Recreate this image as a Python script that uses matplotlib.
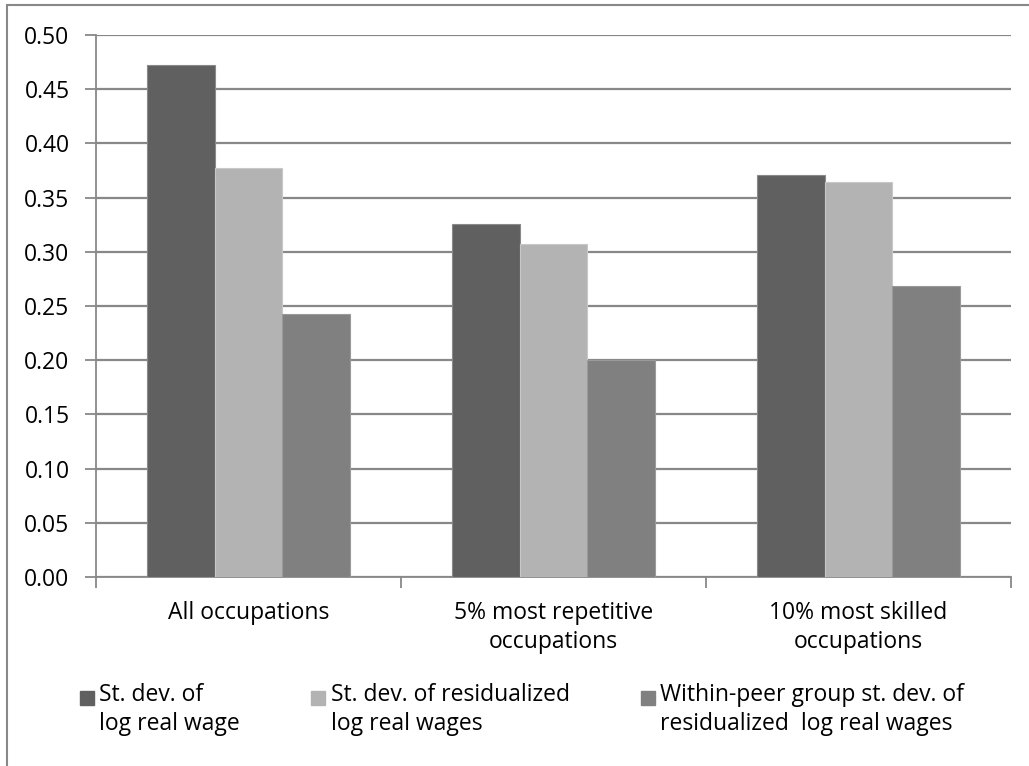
import matplotlib
matplotlib.use("Agg")
import matplotlib.pyplot as plt
from matplotlib.patches import Rectangle
from matplotlib.legend_handler import HandlerPatch
import numpy as np

categories = ["All occupations", "5% most repetitive\noccupations", "10% most skilled\noccupations"]
series_names = ["St. dev. of\nlog real wage",
                "St. dev. of residualized\nlog real wages",
                "Within-peer group st. dev. of\nresidualized  log real wages"]
sd_log_wage = [0.472, 0.326, 0.371]
sd_resid = [0.377, 0.307, 0.364]
within_peer = [0.243, 0.200, 0.268]
yticks = [0.00, 0.05, 0.10, 0.15, 0.20, 0.25, 0.30, 0.35, 0.40, 0.45, 0.50]

colors = ["#606060", "#b3b3b3", "#808080"]
edges = ["#8a8a8a", "#c8c8c8", "#9a9a9a"]
plt.rcParams['font.family'] = ['Open Sans', 'DejaVu Sans']
FS = 16.5

fig = plt.figure(figsize=(10.29, 7.66), dpi=100)
# outer frame (cropped at right/bottom)
fig.patches.append(Rectangle((7/1029, -0.05), 1.2, (766-5)/766 + 0.05, transform=fig.transFigure,
                             fill=False, edgecolor="#888888", linewidth=1.5))
ax = fig.add_axes([96/1029, 1-577/766, (1011-96)/1029, (577-35)/766])

n = len(categories)
x = np.arange(n)
w = 0.2222
data = [sd_log_wage, sd_resid, within_peer]
for i, vals in enumerate(data):
    ax.bar(x + (i - 1) * w, vals, width=w, color=colors[i], edgecolor=edges[i], linewidth=0.8,
           label=series_names[i], zorder=3)

ax.set_xlim(-0.5, n - 0.5)
ax.set_ylim(0, 0.5)
ax.set_yticks(yticks)
ax.set_yticklabels([f"{v:.2f}" for v in yticks], fontsize=FS)
ax.yaxis.grid(True, color="#888888", linewidth=1.6, zorder=0)
ax.set_axisbelow(True)
ax.set_xticks(x)
ax.set_xticklabels(categories, fontsize=FS, linespacing=1.3)
ax.set_xticks(np.arange(n + 1) - 0.5, minor=True)
ax.tick_params(axis='x', which='major', length=0, pad=17)
ax.tick_params(axis='x', which='minor', length=8, width=1.3, color="#888888")
ax.tick_params(axis='y', length=8, width=1.3, color="#888888", pad=11)
for s in ["top", "right"]:
    ax.spines[s].set_visible(False)
for s in ["left", "bottom"]:
    ax.spines[s].set_color("#888888")
    ax.spines[s].set_linewidth(1.3)


def top_square(legend, orig_handle, xdescent, ydescent, width, height, fontsize):
    return Rectangle((-xdescent, -ydescent + 9), width, height)


handles = [Rectangle((0, 0), 1, 1, color=c) for c in colors]
leg = fig.legend(handles, series_names, loc="upper left", bbox_to_anchor=(80/1029, 1-683/766),
                 ncol=3, frameon=False, fontsize=FS, handlelength=0.6, handleheight=0.6,
                 handletextpad=0.25, columnspacing=3.1, borderaxespad=0, borderpad=0,
                 handler_map={Rectangle: HandlerPatch(patch_func=top_square)})
for t in leg.get_texts():
    t.set_linespacing(1.3)

fig.savefig("out.png", dpi=100)
